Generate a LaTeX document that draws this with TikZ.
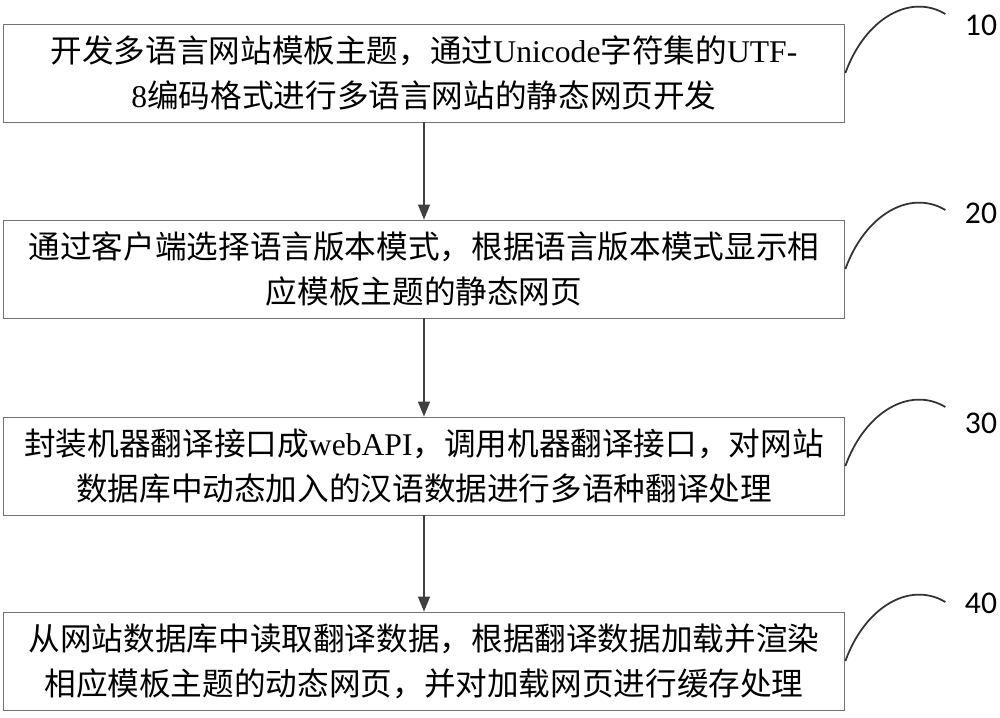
\documentclass[tikz,border=0pt]{standalone}
\usepackage{fontspec}
\setmainfont{Noto Sans CJK SC}
\newfontfamily\lat{Liberation Serif}
\newfontfamily\lbl{Carlito}
\usetikzlibrary{arrows.meta}

\begin{document}
\begin{tikzpicture}[x=0.02cm, y=-0.02cm,
    stepbox/.style={draw=black!55, line width=0.5pt, minimum width=16.84cm, minimum height=1.96cm,
      align=center, inner sep=0pt, font=\fontsize{18pt}{25.6pt}\selectfont},
    flow/.style={draw=black!75, line width=0.7pt, -{Triangle[length=0.3cm, width=0.24cm]}},
    leader/.style={draw=black!80, line width=1pt},
    tag/.style={font=\lbl\fontsize{18pt}{20pt}\selectfont}]
  \useasboundingbox (0,0) rectangle (1000,717);
  \node[stepbox] (s1) at (424,73) {开发多语言网站模板主题，通过{\lat Unicode}字符集的{\lat UTF-}\\{\lat 8}编码格式进行多语言网站的静态网页开发};
  \node[stepbox] (s2) at (424,269) {通过客户端选择语言版本模式，根据语言版本模式显示相\\应模板主题的静态网页};
  \node[stepbox] (s3) at (424,466) {封装机器翻译接口成{\lat webAPI}，调用机器翻译接口，对网站\\数据库中动态加入的汉语数据进行多语种翻译处理};
  \node[stepbox] (s4) at (424,661) {从网站数据库中读取翻译数据，根据翻译数据加载并渲染\\相应模板主题的动态网页，并对加载网页进行缓存处理};
  \draw[flow] (s1) -- (s2);
  \draw[flow] (s2) -- (s3);
  \draw[flow] (s3) -- (s4);
  \node[tag] (l1) at (981,25) {10};
  \node[tag] (l2) at (981,213) {20};
  \node[tag] (l3) at (981,423) {30};
  \node[tag] (l4) at (981,603) {40};
  \foreach \s in {s1,s2,s3,s4}
    \draw[leader] (\s.east) .. controls +(20,-55) and +(-35,-21) .. +(100,-59);
\end{tikzpicture}
\end{document}
